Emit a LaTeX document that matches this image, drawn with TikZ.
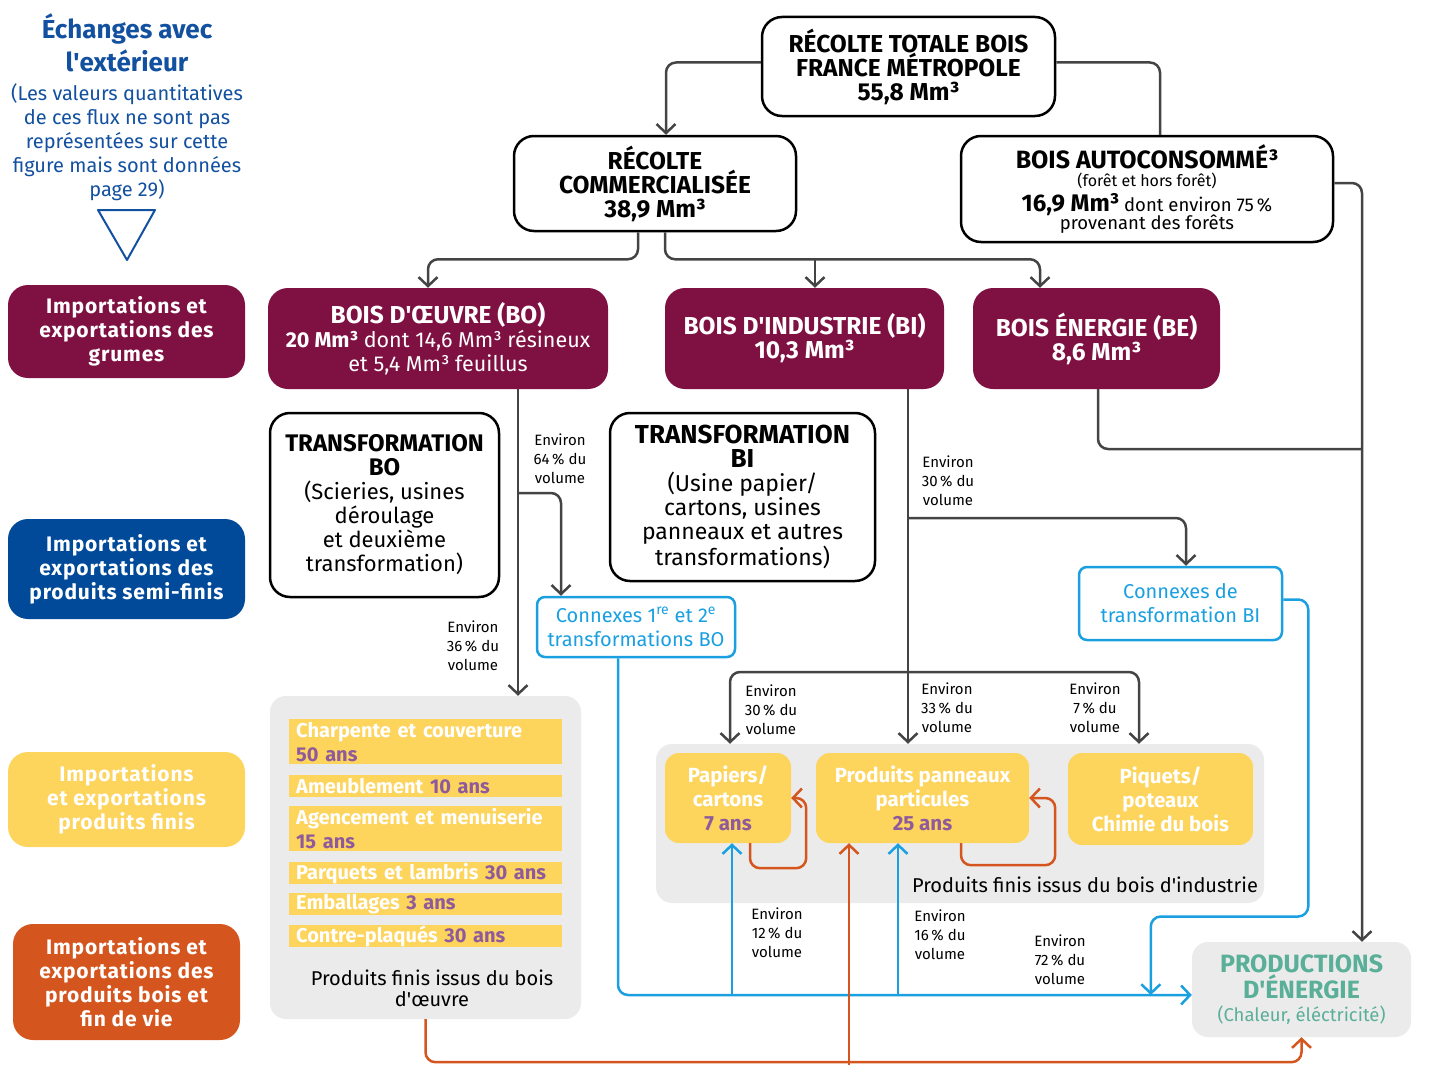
\documentclass[tikz,border=0pt]{standalone}
\usepackage{fontspec}
\setmainfont{Fira Sans}
\newfontfamily\widefont[LetterSpace=4]{Fira Sans}
\usetikzlibrary{arrows.meta}
\definecolor{maroon}{HTML}{7F1142}
\definecolor{dblue}{HTML}{004A99}
\definecolor{tblue}{HTML}{1250A0}
\definecolor{yel}{HTML}{FDD45C}
\definecolor{ora}{HTML}{D4561E}
\definecolor{cya}{HTML}{1AA0E0}
\definecolor{gry}{HTML}{EBEBEB}
\definecolor{grn}{HTML}{5AAF98}
\definecolor{pur}{HTML}{8E5A9C}
\definecolor{lineg}{HTML}{444444}
\newcommand\myfs[2]{\fontsize{#1}{#2}\selectfont}
\newcommand\aq{\textquotesingle}
\tikzset{
  ln/.style={draw=lineg, line width=2.5pt, rounded corners=10pt},
  arr/.style={ln, -{Straight Barb[length=9pt,width=19pt]}},
  cln/.style={draw=cya, line width=2.5pt, rounded corners=10pt, -{Straight Barb[length=9pt,width=19pt]}},
  oln/.style={draw=ora, line width=2.5pt, rounded corners=10pt, -{Straight Barb[length=9pt,width=19pt]}},
  wbox/.style={draw=black, line width=2.5pt, fill=white, rounded corners=20pt, align=center, inner sep=0pt},
  mbox/.style={fill=maroon, text=white, rounded corners=20pt, align=center, inner sep=0pt},
  side/.style={rounded corners=20pt, text=white, align=center, inner sep=0pt, font=\widefont\myfs{21}{24}\bfseries},
  cbox/.style={draw=cya, line width=2.5pt, fill=white, text=cya, rounded corners=8pt, align=center, inner sep=0pt, font=\myfs{20}{24}},
  gbox/.style={fill=gry, rounded corners=16pt, inner sep=0pt},
  ybox/.style={fill=yel, rounded corners=14pt, text=white, align=center, inner sep=0pt, font=\myfs{20.5}{24}\bfseries},
  bar/.style={fill=yel, anchor=north west, minimum width=273pt, text width=259pt, inner xsep=7pt, inner ysep=0pt, align=left, text=white, font=\myfs{20}{24}\bfseries},
  lab/.style={align=center, inner sep=0pt, font=\myfs{15}{19}},
}
\begin{document}
\begin{tikzpicture}[x=1pt,y=-1pt]
\useasboundingbox (0,0) rectangle (1430,1065);
% left column
\node[text=tblue, align=center, font=\myfs{26}{33}\bfseries] (ech) at (127,43) {Échanges avec\\l\aq extérieur};
\node[text=tblue, align=center, font=\myfs{20}{24}] (echt) at (127,142) {(Les valeurs quantitatives\\de ces flux ne sont pas\\représentées sur cette\\figure mais sont données\\page 29)};
\draw[draw=tblue, line width=2pt, line join=round] (98,210) -- (155,210) -- (127,260) -- cycle;
\node[side, fill=maroon, minimum width=237pt, minimum height=93pt] (grumes) at (126.5,331.5) {Importations et\\exportations des\\grumes};
\node[side, fill=dblue, minimum width=237pt, minimum height=100pt] (semi) at (126.5,569) {Importations et\\exportations des\\produits semi-finis};
\node[side, fill=yel, minimum width=237pt, minimum height=95pt] (finis) at (126.5,799.5) {Importations\\et exportations\\produits finis};
\node[side, fill=ora, minimum width=227pt, minimum height=116pt] (fdv) at (126.5,982) {Importations et\\exportations des\\produits bois et\\fin de vie};
% top boxes
\node[wbox, minimum width=293pt, minimum height=99pt, font=\myfs{24.5}{24}\bfseries] (tot) at (908.5,66.5) {RÉCOLTE TOTALE BOIS\\FRANCE MÉTROPOLE\\55,8 Mm³};
\node[wbox, minimum width=282pt, minimum height=95pt, font=\myfs{24.5}{24}\bfseries] (comm) at (655,183.5) {RÉCOLTE\\COMMERCIALISÉE\\38,9 Mm³};
\node[wbox, minimum width=372pt, minimum height=106pt, font=\myfs{18.5}{19}] (auto) at (1147,189) {{\myfs{25}{24}\bfseries BOIS AUTOCONSOMMÉ³}\\[-1pt]{\myfs{16}{19}(forêt et hors forêt)}\\[4pt]{\bfseries\myfs{24}{19}16,9 Mm³} dont environ 75\,\%\\[-1pt]provenant des forêts};
% maroon boxes
\node[mbox, minimum width=340pt, minimum height=101pt, font=\myfs{21.5}{24}] (bo) at (438,338.5) {{\myfs{24.5}{24}\bfseries BOIS D\aq ŒUVRE (BO)}\\{\bfseries 20 Mm³} dont 14,6 Mm³ résineux\\et 5,4 Mm³ feuillus};
\node[mbox, minimum width=279pt, minimum height=101pt, font=\myfs{24.5}{24}\bfseries] (bi) at (804.5,338.5) {BOIS D\aq INDUSTRIE (BI)\\10,3 Mm³};
\node[mbox, minimum width=247pt, minimum height=101pt, font=\myfs{24.5}{24}\bfseries] (be) at (1096.5,338.5) {BOIS ÉNERGIE (BE)\\8,6 Mm³};
% transformation boxes
\node[wbox, minimum width=229pt, minimum height=184pt, font=\myfs{22}{24}] (tbo) at (384.5,505) {{\myfs{24}{24}\bfseries TRANSFORMATION}\\{\myfs{24}{24}\bfseries BO}\\(Scieries, usines\\déroulage\\et deuxième\\transformation)};
\node[wbox, minimum width=265pt, minimum height=168pt, font=\myfs{23}{24}] (tbi) at (742.5,497) {{\myfs{26}{24}\bfseries TRANSFORMATION}\\{\myfs{26}{24}\bfseries BI}\\(Usine papier/\\cartons, usines\\panneaux et autres\\transformations)};
% connexes
\node[cbox, minimum width=198pt, minimum height=60pt] (cbo) at (636,627) {Connexes 1\textsuperscript{re} et 2\textsuperscript{e}\\transformations BO};
\node[cbox, minimum width=203pt, minimum height=73pt] (cbi) at (1180.5,603.5) {Connexes de\\transformation BI};
% grey boxes
\node[gbox, minimum width=311pt, minimum height=323pt] (gbo) at (425.5,857.5) {};
\node[gbox, minimum width=608pt, minimum height=159pt] (gbi) at (960,823.5) {};
\node[gbox, minimum width=219pt, minimum height=95pt, text=grn, align=center, font=\myfs{25}{24}\bfseries] (prod) at (1301.5,989.5) {PRODUCTIONS\\D\aq ÉNERGIE\\[-1pt]{\mdseries\myfs{18.5}{20}(Chaleur, éléctricité)}};
% bars
\node[bar, minimum height=45pt] (b1) at (289,719) {Charpente et couverture\\\textcolor{pur}{50 ans}};
\node[bar, minimum height=22pt] (b2) at (289,775) {Ameublement \textcolor{pur}{10 ans}};
\node[bar, minimum height=45pt] (b3) at (289,806) {Agencement et menuiserie\\\textcolor{pur}{15 ans}};
\node[bar, minimum height=22pt] (b4) at (289,862) {Parquets et lambris \textcolor{pur}{30 ans}};
\node[bar, minimum height=22pt] (b5) at (289,893) {Emballages \textcolor{pur}{3 ans}};
\node[bar, minimum height=22pt] (b6) at (289,925) {Contre-plaqués \textcolor{pur}{30 ans}};
\node[align=center, font=\myfs{20}{21}] (gbolab) at (432,988) {Produits finis issus du bois\\d\aq œuvre};
% BI products
\node[ybox, minimum width=126pt, minimum height=90pt] (pap) at (728,798) {Papiers/\\cartons\\\textcolor{pur}{7 ans}};
\node[ybox, minimum width=213pt, minimum height=90pt] (ppp) at (922.5,798) {Produits panneaux\\particules\\\textcolor{pur}{25 ans}};
\node[ybox, minimum width=185pt, minimum height=92pt] (piq) at (1160.5,799) {Piquets/\\poteaux\\Chimie du bois};
\node[font=\myfs{20}{24}] (gbilab) at (1085,885) {Produits finis issus du bois d\aq industrie};
% labels
\node[lab] (l64) at (560,459) {Environ\\64\,\% du\\volume};
\node[lab] (l36) at (473,646) {Environ\\36\,\% du\\volume};
\node[lab] (l30a) at (948,481) {Environ\\30\,\% du\\volume};
\node[lab] (l30b) at (771,710) {Environ\\30\,\% du\\volume};
\node[lab] (l33) at (947,708) {Environ\\33\,\% du\\volume};
\node[lab] (l7) at (1095,708) {Environ\\7\,\% du\\volume};
\node[lab] (l12) at (777,933) {Environ\\12\,\% du\\volume};
\node[lab] (l16) at (940,935) {Environ\\16\,\% du\\volume};
\node[lab] (l72) at (1060,960) {Environ\\72\,\% du\\volume};
% connectors top
\draw[arr] ([yshift=4pt]tot.west) -| ([xshift=11pt]comm.north);
\draw[ln] ([yshift=4pt]tot.east) -| ([xshift=13pt]auto.north);
\draw[arr] ([xshift=-17pt]comm.south) -- ++(0,27) -| ([xshift=-10pt]bo.north);
\draw[arr] ([xshift=10pt]comm.south) -- ++(0,27) -| ([xshift=-56.5pt]be.north);
\coordinate (hbar) at (815,258);
\draw[arr] (hbar) -- (hbar |- bi.north);
\draw[arr] ([yshift=6pt]auto.east) -| ([xshift=60.5pt]prod.north);
\coordinate (vj) at (1362,449);
\draw[ln] ([xshift=1.5pt]be.south) |- (vj);
% BO flows
\draw[arr] ([xshift=80pt]bo.south) -- ([xshift=80pt]bo.south |- gbo.north);
\coordinate (bj) at (518,493);
\draw[arr] (bj) -| ([xshift=-75pt]cbo.north);
% BI flows
\draw[arr] ([xshift=103.5pt]bi.south) -- ([xshift=103.5pt]bi.south |- gbi.north);
\coordinate (bij) at (908,518);
\draw[arr] (bij) -| ([xshift=5.5pt]cbi.north);
\coordinate (bik) at (908,672);
\draw[arr] (bik) -| ([xshift=2pt]pap.north |- gbi.north);
\draw[arr] (bik) -| ([xshift=-21.5pt]piq.north |- gbi.north);
% orange loops
\draw[oln] ([xshift=22pt]pap.south) -- ++(0,25) -| ([xshift=15pt]pap.east) -- (pap.east);
\draw[oln] ([xshift=38.5pt]ppp.south) -- ++(0,22) -| ([xshift=26pt]ppp.east) -- (ppp.east);
% cyan flows
\draw[cln] ([xshift=-18pt]cbo.south) |- ([yshift=-5.5pt]prod.west);
\draw[cln] ([xshift=4pt]pap.south |- 0,995) -- ([xshift=4pt]pap.south);
\draw[cln] ([xshift=-24.5pt]ppp.south |- 0,995) -- ([xshift=-24.5pt]ppp.south);
\draw[cln] ([yshift=4pt]cbi.east) -- ++(25,0) -- ++(0,317) -| ([xshift=-41pt,yshift=-5.5pt]prod.west);
% orange bottom
\draw[oln] (gbo.south) -- ++(0,43) -| (prod.south);
\coordinate (ob) at (849,1066);
\draw[oln] (ob) -- (ob |- ppp.south);
\end{tikzpicture}
\end{document}
